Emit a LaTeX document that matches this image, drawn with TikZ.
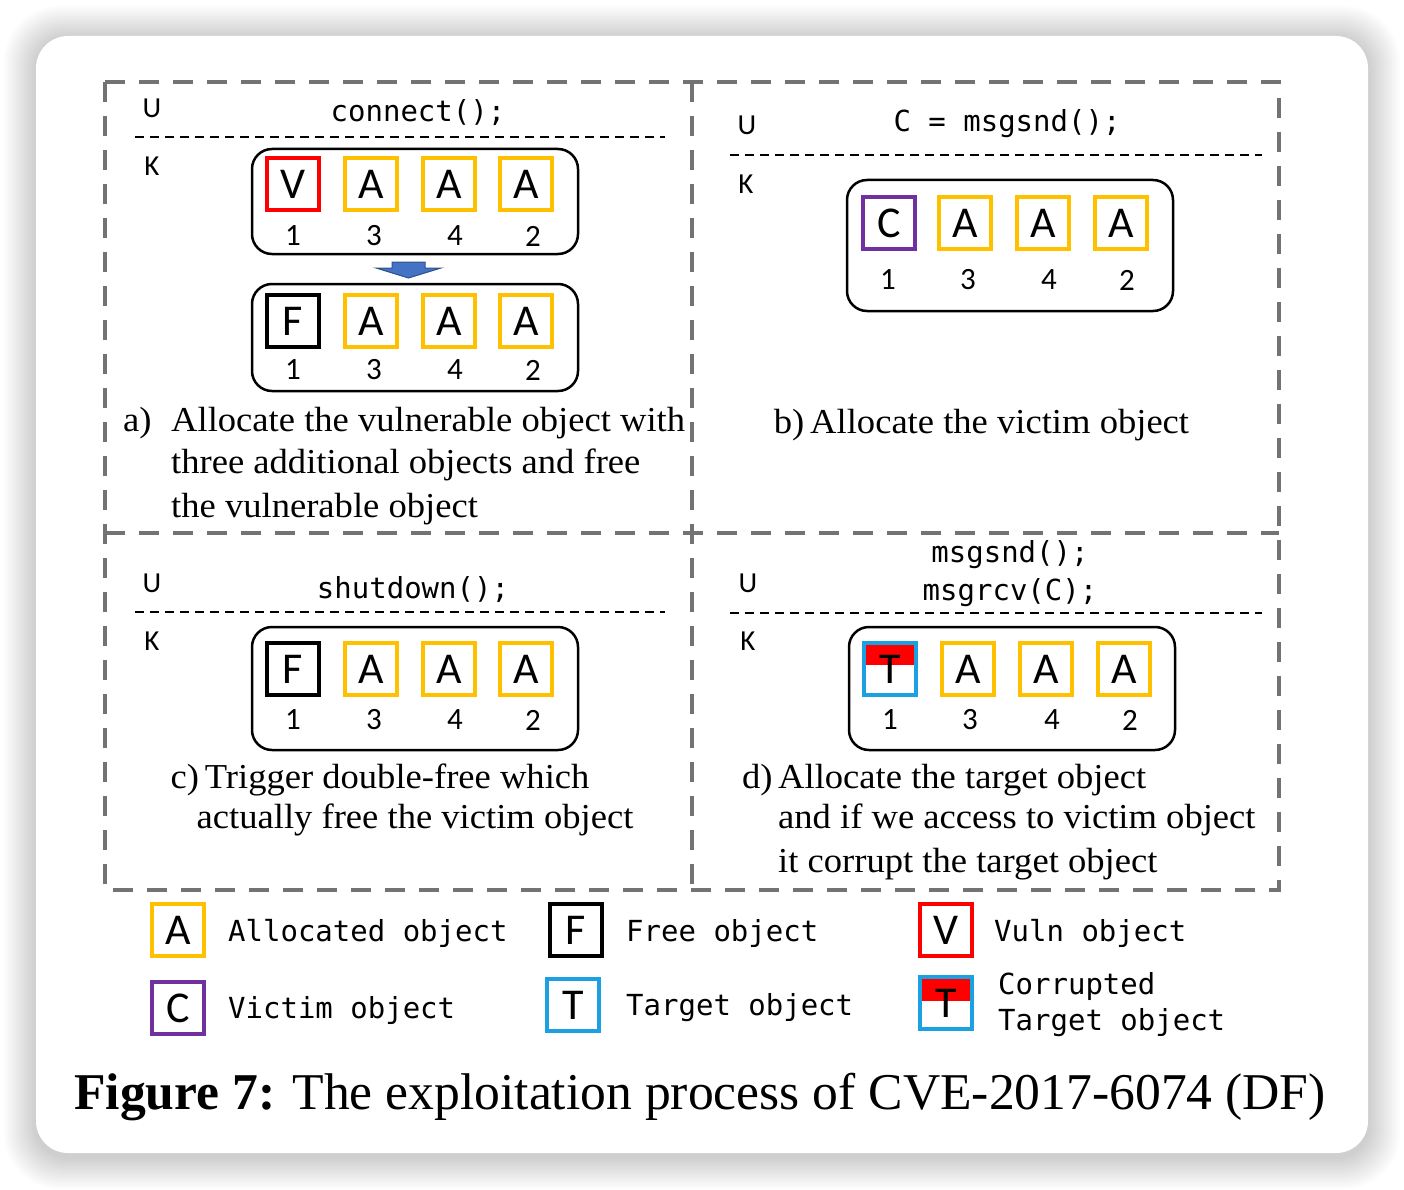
\documentclass[tikz,border=0pt]{standalone}
\usepackage{fontspec}
\setmainfont{Liberation Serif}
\newfontfamily\capfont[FakeStretch=1.045]{Liberation Serif}
\newfontfamily\mycarl{Carlito}
\newfontfamily\mymono{DejaVu Sans Mono}
\usetikzlibrary{calc}
\definecolor{allocc}{HTML}{FFC000}
\definecolor{vulnc}{HTML}{FF0000}
\definecolor{victc}{HTML}{7030A0}
\definecolor{targc}{HTML}{1BA1E2}
\definecolor{framec}{HTML}{737373}
\definecolor{arrowc}{HTML}{4472C4}
\definecolor{arrowd}{HTML}{2F528F}
\tikzset{
  obj/.style={draw, line width=4.5pt, minimum size=52pt, inner sep=0pt, fill=white, font=\mycarl\fontsize{44}{50}\selectfont},
  alloc/.style={obj, draw=allocc},
  vuln/.style={obj, draw=vulnc},
  freeo/.style={obj, draw=black},
  victim/.style={obj, draw=victc},
  target/.style={obj, draw=targc},
  corrupt/.style={obj, draw=targc, path picture={\fill[vulnc] (path picture bounding box.north west) rectangle ($(path picture bounding box.east)+(0pt,#1)$);}},
  num/.style={font=\mycarl\fontsize{31}{36}\selectfont, inner sep=0pt},
  uk/.style={font=\mycarl\fontsize{29}{34}\selectfont, inner sep=0pt},
  code/.style={font=\mymono\fontsize{29}{34}\selectfont, inner sep=0pt, anchor=base},
  captxt/.style={font=\capfont\fontsize{35}{40}\selectfont, inner sep=0pt, anchor=base west},
  capmid/.style={font=\capfont\fontsize{35}{40}\selectfont, inner sep=0pt, anchor=base},
  legtext/.style={font=\mymono\fontsize{29}{34}\selectfont, inner sep=0pt, anchor=base west},
  membox/.style={draw, line width=2.5pt, rounded corners=20pt, inner sep=0pt},
  frameline/.style={draw=framec, line width=4pt, dash pattern=on 20pt off 14pt},
  sepline/.style={draw=black, line width=2.5pt, dash pattern=on 9pt off 6pt},
}
\begin{document}
\begin{tikzpicture}[x=1pt,y=-1pt]
\useasboundingbox (0,0) rectangle (1404,1190);
\fill[white] (0,0) rectangle (1404,1190);
% card shadow
\foreach \i in {1,...,16}{
  \fill[black, opacity=0.011, rounded corners=32+1.5*\i] (36-2*\i,38-2*\i) rectangle (1368+2*\i,1157+2*\i);
}
\fill[white, rounded corners=32] (36,36) rectangle (1368,1153);

% panel frame
\draw[frameline] (105,82) rectangle (1279,890);
\draw[frameline] (692,82) -- (692,890);
\draw[frameline] (105,533) -- (1279,533);

% ---------- panel a ----------
\node[uk] (ua) at (152,108) {U};
\node[uk] (ka) at (152,166) {K};
\node[code] (ca) at (418,122) {connect();};
\coordinate (sa1) at (135,137);
\coordinate (sa2) at (665,137);
\draw[sepline] (sa1) -- (sa2);
\node[membox, minimum width=326pt, minimum height=105pt] (ma1) at (415,201.5) {};
\node[vuln]  (va) at (293,184) {V};
\node[alloc] (a1a) at (371,184) {A};
\node[alloc] (a2a) at (449,184) {A};
\node[alloc] (a3a) at (526,184) {A};
\node[num] (n1a) at (293,236) {1};
\node[num] (n2a) at (374,236) {3};
\node[num] (n3a) at (455,236) {4};
\node[num] (n4a) at (533,236) {2};
\node[membox, minimum width=326pt, minimum height=107pt] (ma2) at (415,337.5) {};
\node[freeo] (fa) at (293,321) {F};
\node[alloc] (b1a) at (371,321) {A};
\node[alloc] (b2a) at (449,321) {A};
\node[alloc] (b3a) at (526,321) {A};
\node[num] (m1a) at (293,370) {1};
\node[num] (m2a) at (374,370) {3};
\node[num] (m3a) at (455,370) {4};
\node[num] (m4a) at (533,370) {2};
\draw[fill=arrowc, draw=arrowd, line width=1pt]
  (392,262) -- (425,262) -- (425,268) -- (441,268) -- (408.5,278) -- (376,268) -- (392,268) -- cycle;
\node[captxt] (pa) at (123,431) {a)};
\node[captxt] (ta1) at (171,431) {Allocate the vulnerable object with};
\node[captxt] (ta2) at (171,473) {three additional objects and free};
\node[captxt] (ta3) at (171,517) {the vulnerable object};

% ---------- panel b ----------
\node[uk] (ub) at (747,125) {U};
\node[uk] (kb) at (746,184) {K};
\node[code] (cb) at (1007,132) {C = msgsnd();};
\coordinate (sb1) at (730,155);
\coordinate (sb2) at (1262,155);
\draw[sepline] (sb1) -- (sb2);
\node[membox, minimum width=326pt, minimum height=131pt] (mb) at (1010,245.5) {};
\node[victim] (vb) at (889,223) {C};
\node[alloc] (a1b) at (965,223) {A};
\node[alloc] (a2b) at (1043,223) {A};
\node[alloc] (a3b) at (1121,223) {A};
\node[num] (n1b) at (888,280) {1};
\node[num] (n2b) at (968,280) {3};
\node[num] (n3b) at (1049,280) {4};
\node[num] (n4b) at (1127,280) {2};
\node[capmid] (tb) at (981.5,433) {b)\,Allocate the victim object};

% ---------- panel c ----------
\node[uk] (uc) at (152,583) {U};
\node[uk] (kc) at (152,641) {K};
\node[code] (cc) at (413,598) {shutdown();};
\coordinate (sc1) at (135,612);
\coordinate (sc2) at (665,612);
\draw[sepline] (sc1) -- (sc2);
\node[membox, minimum width=326pt, minimum height=123pt] (mc) at (415,688.5) {};
\node[freeo] (fc) at (293,669) {F};
\node[alloc] (a1c) at (371,669) {A};
\node[alloc] (a2c) at (449,669) {A};
\node[alloc] (a3c) at (526,669) {A};
\node[num] (n1c) at (293,720) {1};
\node[num] (n2c) at (374,720) {3};
\node[num] (n3c) at (455,720) {4};
\node[num] (n4c) at (533,720) {2};
\node[capmid] (tc1) at (380,788) {c)\,Trigger double-free which};
\node[capmid] (tc2) at (415,828) {actually free the victim object};

% ---------- panel d ----------
\node[uk] (ud) at (748,583) {U};
\node[uk] (kd) at (748,641) {K};
\node[code] (cd1) at (1010,562) {msgsnd();};
\node[code] (cd2) at (1010,600) {msgrcv(C);};
\coordinate (sd1) at (730,613);
\coordinate (sd2) at (1262,613);
\draw[sepline] (sd1) -- (sd2);
\node[membox, minimum width=326pt, minimum height=123pt] (md) at (1012,688.5) {};
\node[corrupt=4pt] (td) at (890,669) {T};
\node[alloc] (a1d) at (968,669) {A};
\node[alloc] (a2d) at (1046,669) {A};
\node[alloc] (a3d) at (1124,669) {A};
\node[num] (n1d) at (890,720) {1};
\node[num] (n2d) at (970,720) {3};
\node[num] (n3d) at (1052,720) {4};
\node[num] (n4d) at (1130,720) {2};
\node[captxt] (pd) at (742,788) {d)};
\node[captxt] (td1) at (778,788) {Allocate the target object};
\node[captxt] (td2) at (778,828) {and if we access to victim object};
\node[captxt] (td3) at (778,872) {it corrupt the target object};

% ---------- legend ----------
\node[alloc]  (la) at (178,930) {A};
\node[legtext] (lta) at (228,941) {Allocated object};
\node[freeo]  (lf) at (576,930) {F};
\node[legtext] (ltf) at (626,941) {Free object};
\node[vuln]   (lv) at (946,930) {V};
\node[legtext] (ltv) at (994,941) {Vuln object};
\node[victim] (lc) at (178,1008) {C};
\node[legtext] (ltc) at (228,1018) {Victim object};
\node[target] (lt) at (573,1005) {T};
\node[legtext] (ltt) at (626,1015) {Target object};
\node[corrupt=2pt] (lct) at (946,1003) {T};
\node[legtext] (ltc1) at (998,994) {Corrupted};
\node[legtext] (ltc2) at (998,1030) {Target object};

% ---------- caption ----------
\node[font=\fontsize{51.6}{60}\selectfont, inner sep=0pt, anchor=base] (fig) at (700,1109) {\textbf{Figure 7:} The exploitation process of CVE-2017-6074 (DF)};
\end{tikzpicture}
\end{document}
